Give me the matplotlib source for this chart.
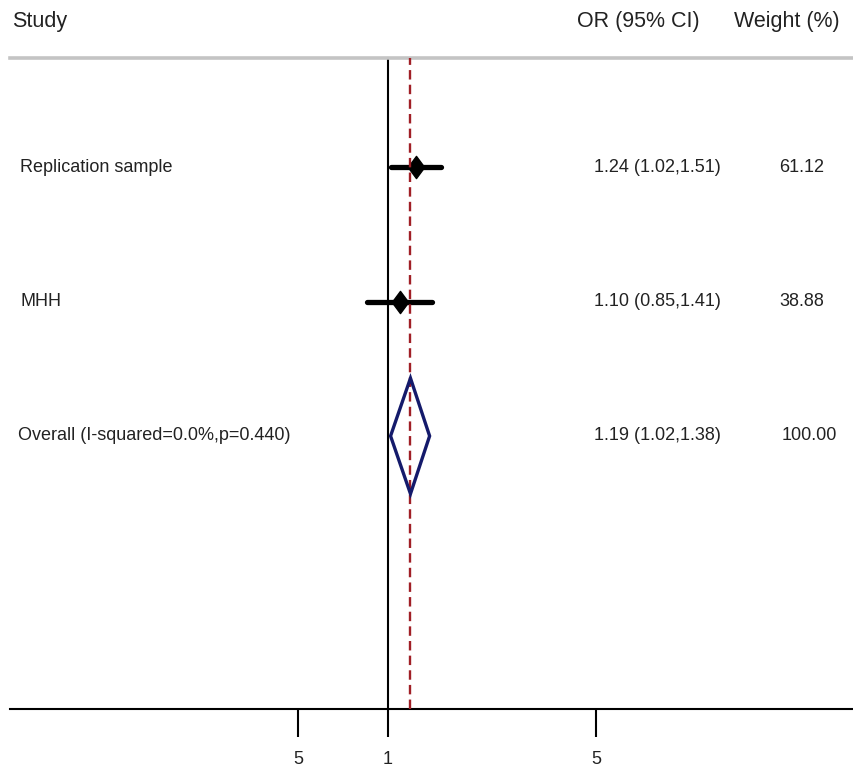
import numpy as np
import matplotlib
matplotlib.use("Agg")
import matplotlib.pyplot as plt
from matplotlib.path import Path
from matplotlib.patches import Polygon
from matplotlib.transforms import blended_transform_factory

# study rows
studies = ["Replication sample", "MHH"]
or_est = [1.24, 1.10]
ci_low = [1.02, 0.85]
ci_high = [1.51, 1.41]
weights = [61.12, 38.88]

# pooled estimate
overall_label = "Overall (I-squared=0.0%,p=0.440)"
overall_est = 1.19
overall_low = 1.02
overall_high = 1.38
overall_weight = 100.00

tick_values = [0.5, 1, 5]
tick_labels = ["5", "1", "5"]

plt.rcParams["font.family"] = ["Liberation Sans", "DejaVu Sans"]
text_color = "#222222"

W, H = 854, 770
fig = plt.figure(figsize=(W / 100, H / 100), dpi=100)
ax = fig.add_axes([10 / W, 61 / H, 1 - 10 / W, (709 - 58) / H])

# x: log scale, 1 at pixel 388, ~129 px per ln unit
px_per_ln = 129.2
ax.set_xscale("log")
ax.set_xlim(np.exp((10 - 388) / px_per_ln), np.exp((854 - 388) / px_per_ln))
# y: rows at 0, 1, 2 going down
row_px, row_step = 167, 134.5
ax.set_ylim((709 - row_px) / row_step, (58 - row_px) / row_step)

for s in ["left", "right"]:
    ax.spines[s].set_visible(False)
ax.spines["top"].set_color("#c4c4c4")
ax.spines["top"].set_linewidth(2.6)
ax.spines["bottom"].set_color("black")
ax.spines["bottom"].set_linewidth(1.5)

ax.set_yticks([])
ax.set_xticks(tick_values)
ax.set_xticklabels(tick_labels)
ax.xaxis.set_minor_locator(matplotlib.ticker.NullLocator())
ax.tick_params(axis="x", direction="out", length=20, width=1.5, pad=10,
               labelsize=13, labelcolor=text_color)

# reference lines
ax.axvline(1, color="black", lw=1.5, zorder=2)
ax.axvline(overall_est, color="#a01f26", lw=1.7, ls=(0, (4, 2.2)), zorder=4)

# study estimates
diamond = Path([(0, 1), (0.74, 0), (0, -1), (-0.74, 0), (0, 1)],
               [Path.MOVETO, Path.LINETO, Path.LINETO, Path.LINETO, Path.CLOSEPOLY])
rows = np.arange(len(studies))
for r, est, lo, hi in zip(rows, or_est, ci_low, ci_high):
    ax.plot([lo, hi], [r, r], color="black", lw=3.8, solid_capstyle="round", zorder=3)
    ax.plot([est], [r], marker=diamond, markersize=16, color="black", zorder=3)

# pooled diamond
r_all = len(studies)
half = 0.43
ax.add_patch(Polygon([(overall_low, r_all), (overall_est, r_all - half),
                      (overall_high, r_all), (overall_est, r_all + half)],
                     closed=True, fill=False, edgecolor="#141a6b", lw=2.4, zorder=5))

# text columns
tr = blended_transform_factory(fig.transFigure, ax.transData)
row_fs = 13
for r, name, est, lo, hi, w in zip(rows, studies, or_est, ci_low, ci_high, weights):
    ax.text(20 / W, r, name, transform=tr, ha="left", va="center",
            fontsize=row_fs, color=text_color)
    ax.text(594 / W, r, f"{est:.2f} ({lo:.2f},{hi:.2f})", transform=tr,
            ha="left", va="center", fontsize=row_fs, color=text_color)
    ax.text(779 / W, r, f"{w:.2f}", transform=tr, ha="left", va="center",
            fontsize=row_fs, color=text_color)

ax.text(18 / W, r_all, overall_label, transform=tr, ha="left", va="center",
        fontsize=row_fs, color=text_color)
ax.text(594 / W, r_all, f"{overall_est:.2f} ({overall_low:.2f},{overall_high:.2f})",
        transform=tr, ha="left", va="center", fontsize=row_fs, color=text_color)
ax.text(782 / W, r_all, f"{overall_weight:.2f}", transform=tr, ha="left",
        va="center", fontsize=row_fs, color=text_color)

# headers
hdr_fs = 15.5
hy = 1 - 22 / H
fig.text(12 / W, hy, "Study", ha="left", va="center", fontsize=hdr_fs, color=text_color)
fig.text(700 / W, hy, "OR (95% CI)", ha="right", va="center", fontsize=hdr_fs, color=text_color)
fig.text(840 / W, hy, "Weight (%)", ha="right", va="center", fontsize=hdr_fs, color=text_color)

fig.savefig("out.png", dpi=100, facecolor="white")
